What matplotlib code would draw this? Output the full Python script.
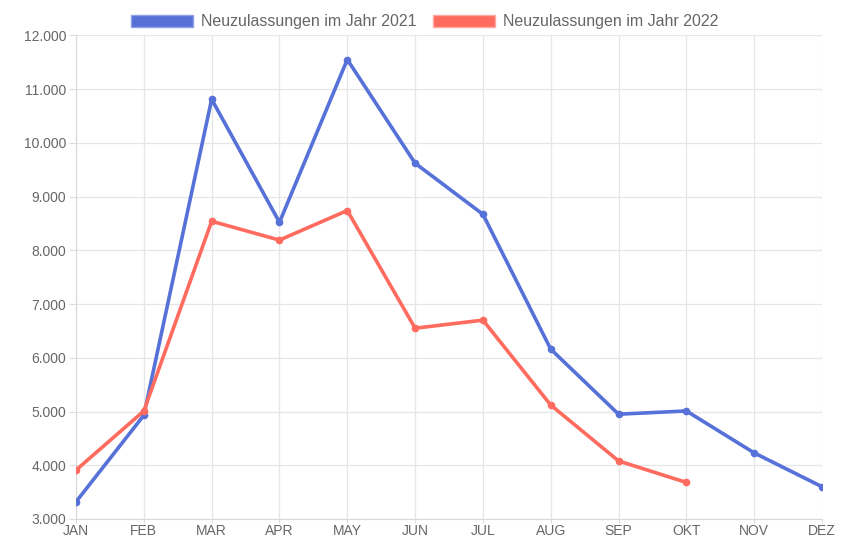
import matplotlib.pyplot as plt
from matplotlib.patches import Patch
from matplotlib.ticker import FuncFormatter

plt.rcParams['font.family'] = ['Liberation Sans', 'DejaVu Sans']

months = ['JAN', 'FEB', 'MAR', 'APR', 'MAY', 'JUN', 'JUL', 'AUG', 'SEP', 'OKT', 'NOV', 'DEZ']
zul_2021 = [3320, 4930, 10810, 8520, 11550, 9620, 8670, 6160, 4950, 5010, 4230, 3600]
zul_2022 = [3910, 5010, 8540, 8190, 8740, 6550, 6700, 5120, 4080, 3680]
labels = ['Neuzulassungen im Jahr 2021', 'Neuzulassungen im Jahr 2022']

blue = '#5671d8'
red = '#ff6b5e'
grey = '#666666'

fig = plt.figure(figsize=(8.41, 5.41), dpi=100)
ax = fig.add_axes([0.0904, 0.0407, 0.887, 0.894])

x = list(range(len(months)))
ax.plot(x, zul_2021, color=blue, lw=2.6, marker='o', ms=4.5, zorder=3)
ax.plot(x[:len(zul_2022)], zul_2022, color=red, lw=2.6, marker='o', ms=4.5, zorder=3)

ax.set_xlim(0, len(months) - 1)
ax.set_ylim(3000, 12000)
ax.set_xticks(x)
ax.set_xticklabels(months)
ax.set_yticks(range(3000, 12001, 1000))
ax.yaxis.set_major_formatter(FuncFormatter(lambda v, p: f'{int(v):,}'.replace(',', '.')))
ax.tick_params(colors='#dddddd', labelcolor=grey, labelsize=10, length=5, pad=2)
ax.tick_params(axis='x', length=3, pad=0.5)
ax.grid(True, color='#e6e6e6', lw=0.9)
for s in ['top', 'right']:
    ax.spines[s].set_visible(False)
for s in ['left', 'bottom']:
    ax.spines[s].set_color('#d8d8d8')

handles = [Patch(facecolor=blue, edgecolor='#8fa0e6'), Patch(facecolor=red, edgecolor='#ffa9a2')]
fig.legend(handles, labels, loc='upper center', bbox_to_anchor=(0.505, 1.0), ncol=2,
           frameon=False, fontsize=11.5, labelcolor=grey, handlelength=3.9, handleheight=0.8,
           columnspacing=1.0, handletextpad=0.5)

fig.savefig('out.png', dpi=100, facecolor='white')
